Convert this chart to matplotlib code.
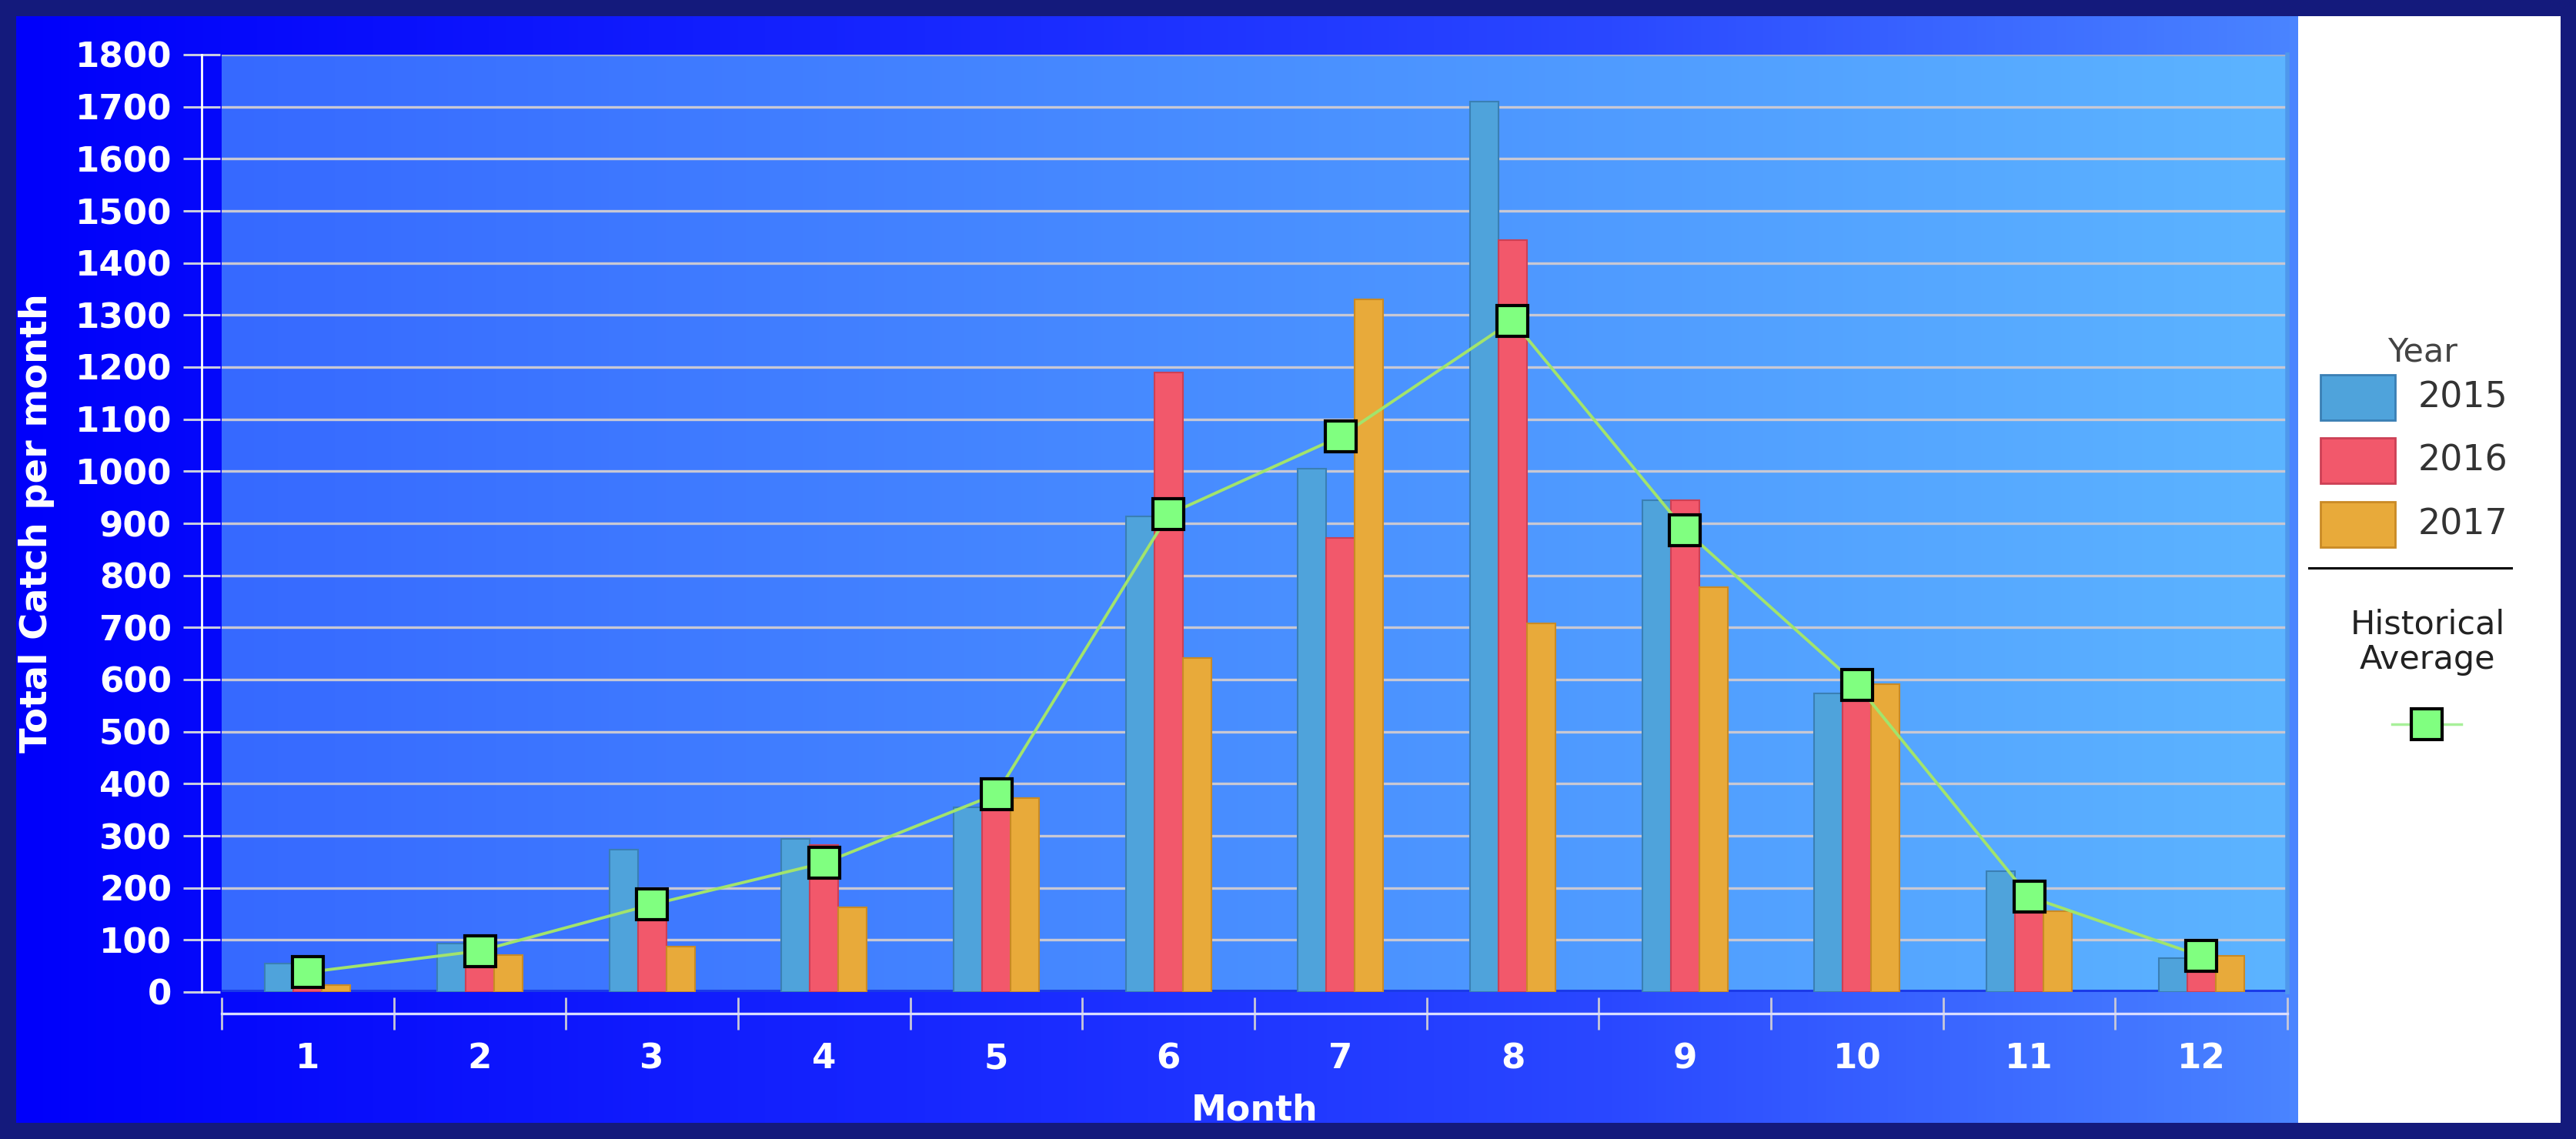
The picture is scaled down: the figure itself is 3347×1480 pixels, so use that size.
import matplotlib
matplotlib.use('Agg')
import matplotlib.pyplot as plt
import numpy as np
from matplotlib.colors import LinearSegmentedColormap
from matplotlib.patches import Rectangle

# ---- data ----
months = [1, 2, 3, 4, 5, 6, 7, 8, 9, 10, 11, 12]
years = ['2015', '2016', '2017']
catch_2015 = [55, 93, 273, 294, 355, 914, 1005, 1710, 945, 573, 232, 65]
catch_2016 = [20, 55, 145, 283, 365, 1190, 872, 1444, 945, 585, 165, 45]
catch_2017 = [14, 71, 87, 162, 373, 642, 1330, 708, 778, 591, 155, 70]
hist_avg = [38, 79, 168, 248, 380, 917, 1067, 1289, 887, 590, 183, 69]

bar_face = ['#4fa3db', '#f2586b', '#e8aa3a']
bar_edge = ['#3a7fb4', '#cc4055', '#c98a25']

W, H = 3347, 1480
NAVY = '#141a7c'
plt.rcParams['font.family'] = ['DejaVu Sans']


def hgrad(stops, n=512):
    cmap = LinearSegmentedColormap.from_list('g', stops)
    return cmap(np.linspace(0, 1, n))[None, :, :3]


fig = plt.figure(figsize=(W / 100, H / 100), dpi=100, facecolor=NAVY)

# background panel (pixel coordinates)
bg = fig.add_axes([0, 0, 1, 1])
bg.set_xlim(0, W)
bg.set_ylim(H, 0)
bg.axis('off')
bg.imshow(hgrad([(0, '#0000fa'), (0.45, '#1a2cff'), (0.7, '#2a48ff'), (1, '#4a84ff')]),
          extent=(21, 2986, 1459, 21), aspect='auto', zorder=0)
bg.add_patch(Rectangle((2986, 21), 341, 1438, facecolor='white', edgecolor='none', zorder=1))

# legend
bg.text(3148, 458, 'Year', fontsize=31, color='#444444', ha='center', va='center', zorder=3)
for i, yr in enumerate(years):
    top = [487, 569, 652][i]
    bg.add_patch(Rectangle((3015, top), 97, 59, facecolor=bar_face[i], edgecolor=bar_edge[i],
                           linewidth=2, zorder=3))
    bg.text(3142, top + 30, yr, fontsize=33, color='#333333', ha='left', va='center', zorder=3)
bg.plot([3000, 3263], [738, 738], color='black', lw=2.2, zorder=3)
bg.text(3154, 811, 'Historical', fontsize=31, color='#222222', ha='center', va='center', zorder=3)
bg.text(3154, 857, 'Average', fontsize=31, color='#222222', ha='center', va='center', zorder=3)
bg.plot([3108, 3198], [941, 941], color='#a8f09a', lw=2.5, zorder=3)
bg.plot([3153], [941], marker='s', ms=29, mfc='#80ff80', mec='black', mew=3, zorder=4)

# main axes
x0, x1, y0, y1 = 288, 2972, 71, 1289
ax = fig.add_axes([x0 / W, 1 - y1 / H, (x1 - x0) / W, (y1 - y0) / H])
ax.set_facecolor('none')
x = np.arange(len(months))
ax.imshow(hgrad(['#3669ff', '#5cb4ff']), extent=(-0.5, 11.5, 0, 1800), aspect='auto', zorder=0)
for v in range(100, 1800, 100):
    ax.axhline(v, color='#c8c8d4', lw=2.4, zorder=1)
ax.axhline(1800, color='#a4b0cc', lw=2.4, zorder=1)

bw = 0.1655
for i, vals in enumerate([catch_2015, catch_2016, catch_2017]):
    ax.bar(x + (i - 1) * bw, vals, width=bw, color=bar_face[i], edgecolor=bar_edge[i],
           linewidth=1.5, zorder=3)
ax.plot(x, hist_avg, color='#a2e46c', lw=2.8, zorder=4)
ax.plot(x, hist_avg, ls='none', marker='s', ms=29, mfc='#80ff80', mec='black', mew=3, zorder=5)

ax.set_xlim(-0.5, 11.5)
ax.set_ylim(0, 1800)

ax.spines['top'].set_visible(False)
ax.spines['right'].set_color('#4f98ec')
ax.spines['right'].set_linewidth(4)
ax.spines['left'].set_position(('outward', 26 * 0.72))
ax.spines['left'].set_color('white')
ax.spines['left'].set_linewidth(2)
ax.spines['bottom'].set_position(('outward', 28 * 0.72))
ax.spines['bottom'].set_color('#d8dcff')
ax.spines['bottom'].set_linewidth(2.4)
# thin dark floor strip just under the plot area
ax.axhline(0, color='#1a3ae8', lw=5, zorder=2)

ax.set_yticks(np.arange(0, 1801, 100))
ax.tick_params(axis='y', direction='inout', length=34, width=2.2, color='#c8cce0',
               pad=11, labelsize=32.5, labelcolor='white')
ax.set_xticks(np.arange(-0.5, 12, 1))
ax.tick_params(axis='x', which='major', direction='inout', length=30, width=2,
               color='#c8c8d8', labelbottom=False)
ax.set_xticks(x, labels=[str(m) for m in months], minor=True)
ax.tick_params(axis='x', which='minor', length=0, pad=27, labelsize=32.5, labelcolor='white')
for lb in ax.get_yticklabels() + ax.get_xticklabels(minor=True):
    lb.set_fontweight('bold')

ax.text(0.5, (y1 - 1455) / (y1 - y0), 'Month', transform=ax.transAxes, ha='center',
        va='baseline', fontsize=33, fontweight='bold', color='white')
ax.text((48 - x0) / (x1 - x0), 0.5, 'Total Catch per month', transform=ax.transAxes,
        rotation=90, ha='center', va='center', fontsize=34.5, fontweight='bold', color='white')

fig.savefig('out.png', dpi=100, facecolor=NAVY)
